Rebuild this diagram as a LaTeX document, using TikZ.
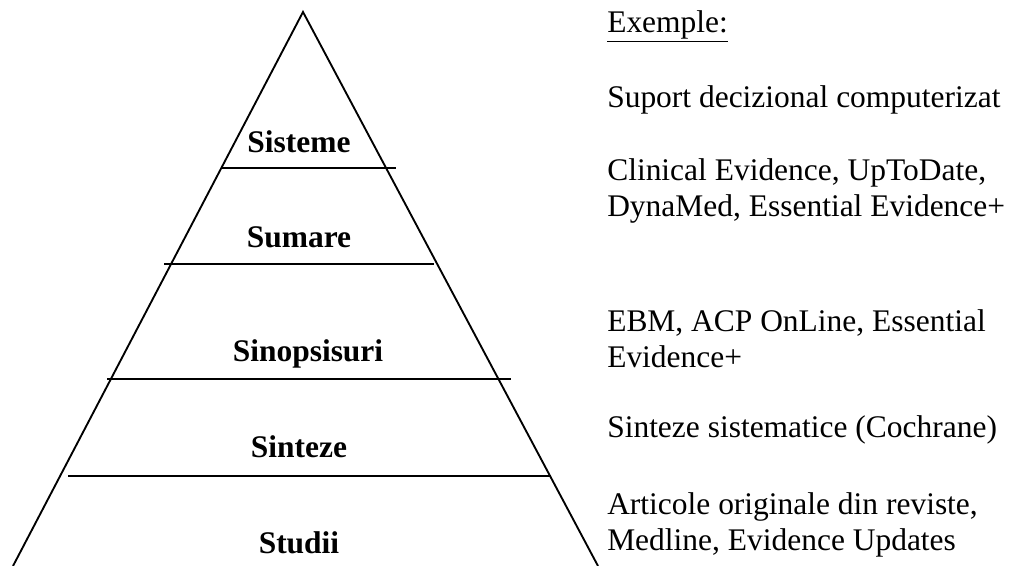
\documentclass[tikz,border=0pt]{standalone}
\usepackage{fontspec}
\setmainfont{Liberation Serif}
\begin{document}
\begin{tikzpicture}[x=0.75pt,y=-0.75pt,
   level/.style={font=\bfseries\fontsize{23.6}{27}\selectfont,anchor=base,inner sep=0pt},
   example/.style={font=\fontsize{23.6}{27}\selectfont,anchor=base west,align=left,inner sep=0pt},
   edge/.style={line width=1.4pt}]
   \useasboundingbox (0,0) rectangle (1013,566);
   % pyramid
   \coordinate (top) at (303,12);
   \coordinate (bl) at (13,566);
   \coordinate (br) at (598,566);
   \draw[edge] (bl) -- (top) -- (br);
   \draw[edge] (222,168) -- (396,168);
   \draw[edge] (164,264) -- (434,264);
   \draw[edge] (107,379) -- (511,379);
   \draw[edge] (68,476) -- (551,476);
   % levels
   \node[level] (sisteme) at (299,153) {Sisteme};
   \node[level] (sumare) at (299,248) {Sumare};
   \node[level] (sinopsisuri) at (308,362) {Sinopsisuri};
   \node[level] (sinteze) at (299,457) {Sinteze};
   \node[level] (studii) at (299,553) {Studii};
   % examples (base = last line)
   \node[example] (ex) at (607,33) {\underline{Exemple:}};
   \node[example] (exsis) at (607,108) {Suport decizional computerizat};
   \node[example] (exsum) at (607,217) {Clinical Evidence, UpToDate,\\DynaMed, Essential Evidence+};
   \node[example] (exsin) at (607,368) {EBM, ACP OnLine, Essential\\Evidence+};
   \node[example] (exsint) at (607,437) {Sinteze sistematice (Cochrane)};
   \node[example] (exstu) at (607,550) {Articole originale din reviste,\\Medline, Evidence Updates};
\end{tikzpicture}
\end{document}
